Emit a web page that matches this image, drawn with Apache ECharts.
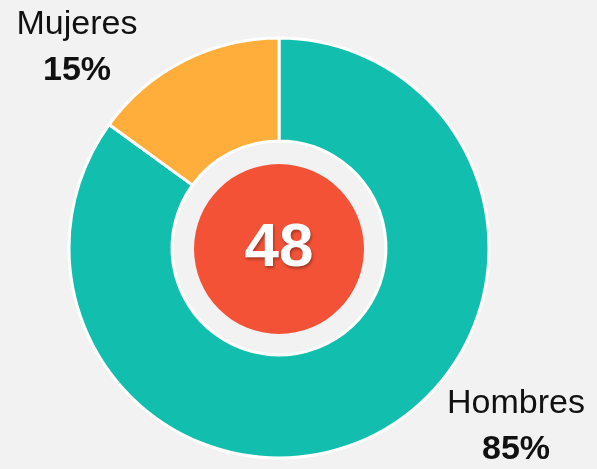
<!DOCTYPE html>
<html><head><meta charset="utf-8">
<script src="https://cdn.jsdelivr.net/npm/echarts@6/dist/echarts.min.js"></script>
<style>html,body{margin:0;padding:0;background:#f2f2f2;}#c{width:597px;height:469px;}</style>
</head><body><div id="c"></div>
<script>
var categories = ['Hombres', 'Mujeres'];
var values = [85, 15];
var colors = ['#12BEAE', '#FFAE3C'];
var totalLabel = '48';

var chart = echarts.init(document.getElementById('c'), null, {renderer: 'canvas'});
var labelPos = [
  {x: 516, y: 427},
  {x: 77, y: 48}
];
chart.setOption({
  backgroundColor: '#f2f2f2',
  animation: false,
  series: [
    {
      type: 'pie',
      center: [279, 248],
      radius: [107, 210],
      startAngle: 90,
      clockwise: true,
      itemStyle: {borderColor: '#ffffff', borderWidth: 3},
      label: {
        show: true,
        position: 'outside',
        formatter: function (p) { return '{n|' + p.name + '}\n{p|' + p.value + '%}'; },
        rich: {
          n: {fontFamily: 'Liberation Sans', fontSize: 34, color: '#111', lineHeight: 46, align: 'center'},
          p: {fontFamily: 'Liberation Sans', fontSize: 34, fontWeight: 'bold', color: '#111', lineHeight: 46, align: 'center'}
        }
      },
      labelLine: {show: false},
      labelLayout: function (params) {
        var lp = labelPos[params.dataIndex];
        return {x: lp.x, y: lp.y, align: 'center', verticalAlign: 'middle'};
      },
      data: categories.map(function (c, i) {
        return {name: c, value: values[i], itemStyle: {color: colors[i]}};
      })
    },
    {
      type: 'pie',
      center: [279, 249],
      radius: [0, 85],
      silent: true,
      itemStyle: {color: '#F45236'},
      label: {
        show: true,
        position: 'center',
        formatter: totalLabel,
        fontFamily: 'Liberation Sans',
        fontSize: 62,
        fontWeight: 'bold',
        color: '#ffffff',
        textShadowColor: 'rgba(0,0,0,0.35)',
        textShadowBlur: 3,
        textShadowOffsetX: 1,
        textShadowOffsetY: 2
      },
      labelLine: {show: false},
      data: [{name: 'total', value: 1}]
    }
  ]
});
</script></body></html>
